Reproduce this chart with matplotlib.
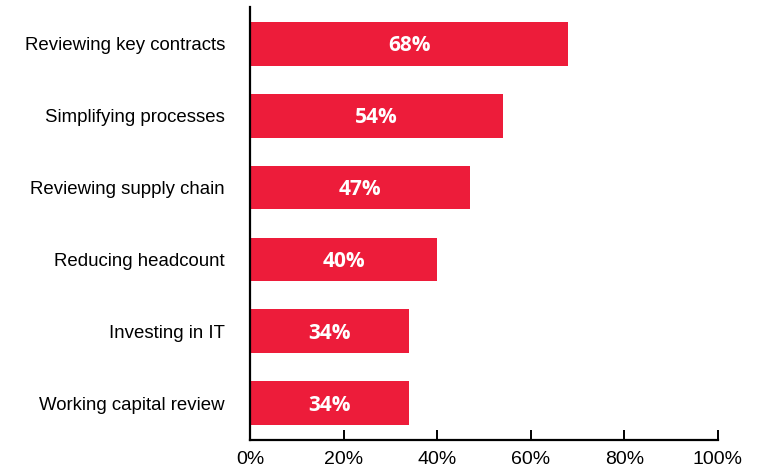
import matplotlib
matplotlib.use("Agg")
import numpy as np
from matplotlib import pyplot as plt

plt.rcParams['font.family'] = ['Liberation Sans', 'DejaVu Sans']

categories = ["Reviewing key contracts", "Simplifying processes",
              "Reviewing supply chain", "Reducing headcount",
              "Investing in IT", "Working capital review"]
values = [68, 54, 47, 40, 34, 34]
xticks = [0, 20, 40, 60, 80, 100]

red = '#ED1C3A'

fig = plt.figure(figsize=(7.63, 4.68), dpi=100)
ax = fig.add_axes([250/763, 28/468, 468/763, 433/468])

y = np.arange(len(categories))
ax.barh(y, values, height=0.61, color=red, zorder=2)

for yi, v in zip(y, values):
    ax.text(v / 2, yi + 0.03, f"{v}%", color='white', fontsize=15, fontweight='bold',
            family=['Open Sans', 'DejaVu Sans'], ha='center', va='center')

ax.set_xlim(0, 100)
ax.set_ylim(len(categories) - 0.49, -0.51)
ax.set_xticks(xticks)
ax.set_xticklabels([f"{t}%" for t in xticks], fontsize=14)
ax.set_yticks(y)
ax.set_yticklabels(categories, fontsize=13.4)

for s in ['top', 'right']:
    ax.spines[s].set_visible(False)
for s in ['left', 'bottom']:
    ax.spines[s].set_linewidth(1.6)
    ax.spines[s].set_color('black')

ax.tick_params(axis='x', direction='in', length=7.5, width=1.4, pad=8)
ax.tick_params(axis='y', length=0, pad=18)

fig.savefig('out.png', dpi=100)
